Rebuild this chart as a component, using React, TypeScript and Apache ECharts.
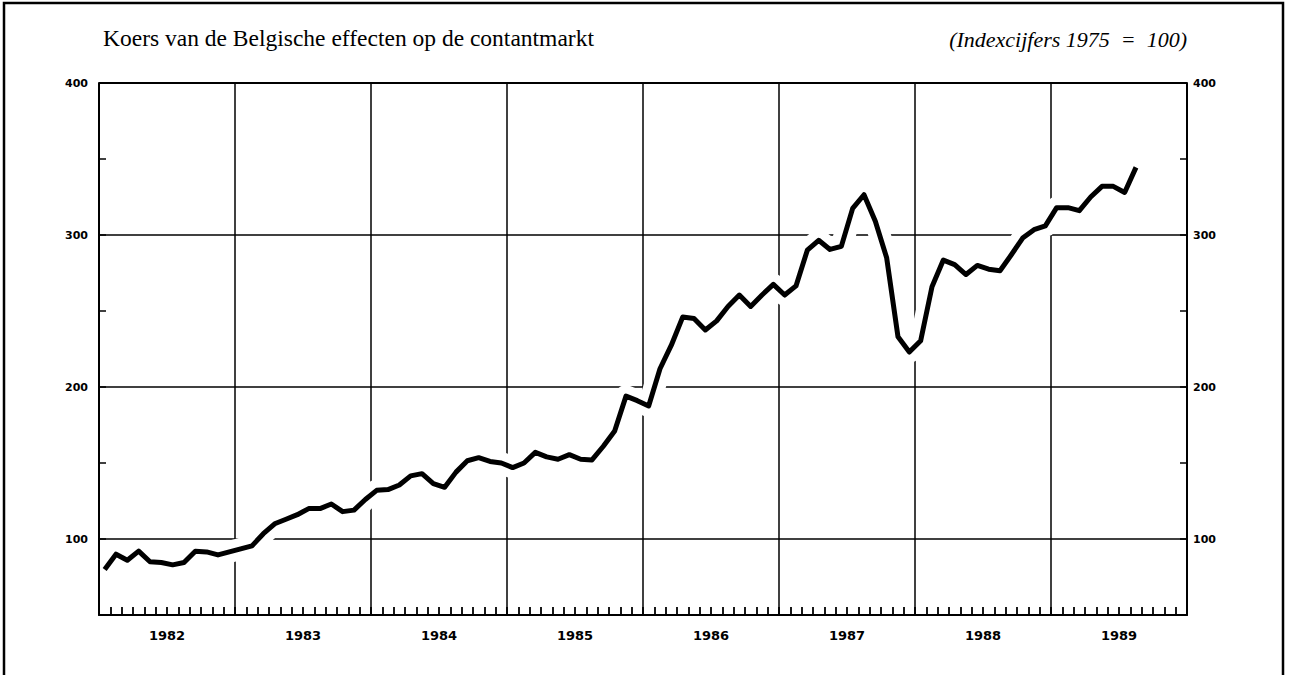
import React, { useEffect, useRef } from "react";
import * as echarts from "echarts";

// ---- Data (monthly index, 1975 = 100) ----
const YEARS = ["1982", "1983", "1984", "1985", "1986", "1987", "1988", "1989"];
const V1982 = [80, 90, 86, 92, 85, 84.5, 83, 84.5, 92, 91.5, 89.5, 91.5];
const V1983 = [93.5, 95.5, 103.5, 110, 113, 116, 120, 120, 123, 118, 119, 126];
const V1984 = [132, 132.5, 135.5, 141.5, 143, 136.5, 134, 144, 151.5, 153.5, 151, 150];
const V1985 = [147, 150, 157, 154, 152.5, 155.5, 152.5, 152, 161, 171, 194, 191];
const V1986 = [187.5, 212, 227.5, 246, 245, 237.5, 243.5, 253, 260.5, 253, 260.5, 267.5];
const V1987 = [260.5, 266.5, 290, 296.5, 290.5, 292.5, 317.5, 326.5, 309, 285, 233, 223];
const V1988 = [230.5, 266, 283.5, 280.5, 274, 280, 277.5, 276.5, 287, 298, 303.5, 306];
const V1989 = [318, 318, 316, 325, 332, 332, 328, 344.5];

const Y_GRID = [100, 200, 300, 400];
const Y_LABELS = [100, 200, 300, 400];

const TITLE = "Koers van de Belgische effecten op de contantmarkt";
const SUBTITLE = "(Indexcijfers 1975  =  100)";

export default function App() {
  const ref = useRef<HTMLDivElement>(null);

  useEffect(() => {
    if (!ref.current) return;
    const chart = echarts.init(ref.current, null, { renderer: "svg" });

    const values = [...V1982, ...V1983, ...V1984, ...V1985, ...V1986, ...V1987, ...V1988, ...V1989];
    const data = values.map((v, i) => [i + 0.5, v]);
    const nMonths = YEARS.length * 12;
    const yearLines = YEARS.slice(1).map((_, i) => (i + 1) * 12);

    const labelFont = {
      fontFamily: "DejaVu Sans",
      fontWeight: "bold" as const,
      color: "#000",
    };

    chart.setOption({
      animation: false,
      backgroundColor: "#fff",
      grid: { left: 99, right: 103, top: 83, bottom: 60, containLabel: false },
      xAxis: [
        {
          type: "value",
          min: 0,
          max: nMonths,
          interval: 12,
          position: "bottom",
          z: 10,
          axisLine: { show: true, lineStyle: { color: "#000", width: 2 } },
          axisTick: { show: true, inside: true, length: 8, lineStyle: { color: "#000", width: 1.8 } },
          minorTick: { show: true, splitNumber: 12, length: 8, lineStyle: { color: "#000", width: 1.8 } },
          axisLabel: { show: false },
          splitLine: { show: false },
        },
        {
          type: "category",
          data: YEARS,
          boundaryGap: true,
          position: "bottom",
          axisLine: { show: false },
          axisTick: { show: false },
          splitLine: { show: false },
          axisLabel: { ...labelFont, fontSize: 13, margin: 14 },
        },
      ],
      yAxis: [
        {
          type: "value",
          min: 50,
          max: 400,
          interval: 50,
          position: "left",
          z: 10,
          axisLine: { show: true, lineStyle: { color: "#000", width: 2 } },
          axisTick: { show: true, inside: true, length: 7, lineStyle: { color: "#000", width: 1.5 } },
          axisLabel: {
            ...labelFont,
            fontSize: 11,
            margin: 11,
            formatter: (v: number) => (Y_LABELS.includes(v) ? String(v) : ""),
          },
          splitLine: { show: false },
        },
        {
          type: "value",
          min: 50,
          max: 400,
          interval: 50,
          position: "right",
          z: 10,
          axisLine: { show: true, lineStyle: { color: "#000", width: 2 } },
          axisTick: { show: true, inside: true, length: 7, lineStyle: { color: "#000", width: 1.5 } },
          axisLabel: {
            ...labelFont,
            fontSize: 11,
            margin: 6,
            formatter: (v: number) => (Y_LABELS.includes(v) ? String(v) : ""),
          },
          splitLine: { show: false },
        },
      ],
      series: [
        {
          name: "grid",
          type: "line",
          data: [],
          z: 0,
          silent: true,
          markLine: {
            z: 0,
            silent: true,
            symbol: ["none", "none"],
            label: { show: false },
            lineStyle: { color: "#000", width: 1.5, type: "solid" },
            data: [
              ...Y_GRID.map((v) => ({ yAxis: v, lineStyle: { width: v === 400 ? 2 : 1.5 } })),
              ...yearLines.map((v) => ({ xAxis: v })),
            ],
          },
        },
        {
          name: "halo",
          type: "line",
          data,
          z: 1,
          silent: true,
          showSymbol: false,
          symbol: "none",
          lineStyle: { color: "#fff", width: 22, join: "round", cap: "round" },
        },
        {
          name: "Koers",
          type: "line",
          data,
          z: 2,
          showSymbol: false,
          symbol: "none",
          lineStyle: { color: "#000", width: 5, join: "round" },
        },
      ],
      graphic: [
        {
          type: "rect",
          silent: true,
          shape: { x: 4, y: 3, width: 1279, height: 720 },
          style: { fill: "none", stroke: "#000", lineWidth: 2.5 },
        },
        {
          type: "text",
          left: 103,
          top: 26,
          style: { text: TITLE, font: '23.5px "Liberation Serif"', fill: "#000" },
        },
        {
          type: "text",
          right: 103,
          top: 28,
          style: { text: SUBTITLE, font: 'italic 22px "Liberation Serif"', fill: "#000" },
        },
      ],
    });

    return () => chart.dispose();
  }, []);

  return (
    <div
      ref={ref}
      style={{ position: "fixed", left: 0, top: 0, width: 1290, height: 675, background: "#fff" }}
    />
  );
}
